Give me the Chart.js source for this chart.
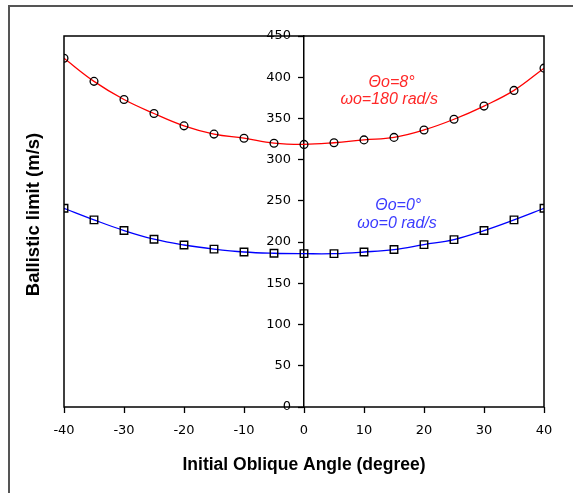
<!DOCTYPE html>
<html>
<head>
<meta charset="utf-8">
<script src="https://cdn.jsdelivr.net/npm/chart.js@4/dist/chart.umd.min.js"></script>
<style>
  body { margin: 0; background: #fff; }
  #wrap { position: relative; width: 573px; height: 493px; overflow: hidden; }
  #frame { position: absolute; left: 8px; top: 5px; width: 700px; height: 700px;
           border-top: 2px solid #555; border-left: 2px solid #555; }
  #myChart { position: absolute; left: 0; top: 0; }
</style>
</head>
<body>
<div id="wrap">
  <div id="frame"></div>
  <canvas id="myChart" width="573" height="493"></canvas>
</div>
<script>
/* datos */
const angles = [-40, -35, -30, -25, -20, -15, -10, -5, 0, 5, 10, 15, 20, 25, 30, 35, 40];
const limitSpin = [423, 395, 373, 356, 341, 331, 326, 320, 318.5, 320.5, 324, 327, 336, 349, 365, 384, 411];
const limitNoSpin = [241, 227, 214, 203.5, 196.5, 191.5, 188, 186.5, 186, 186, 188, 191, 197, 203, 214, 227, 241];
const yTicks = [0, 50, 100, 150, 200, 250, 300, 350, 400, 450];
const xTicks = [-40, -30, -20, -10, 0, 10, 20, 30, 40];

/* etiquetas de las curvas: [x, y] en unidades del grafico */
const notes = [
  { text: 'Θo=8°', at: [14.6, 393], color: 'rgb(255,40,40)' },
  { text: 'ωo=180 rad/s', at: [14.2, 373], color: 'rgb(255,40,40)' },
  { text: 'Θo=0°', at: [15.7, 244], color: 'rgb(60,60,255)' },
  { text: 'ωo=0 rad/s', at: [15.5, 222], color: 'rgb(60,60,255)' }
];

/* caja, titulo del eje y y etiquetas */
const extras = {
  id: 'extras',
  afterDraw(chart) {
    const c = chart.ctx, a = chart.chartArea;
    const sx = chart.scales.x, sy = chart.scales.y;
    c.save();
    c.strokeStyle = '#000';
    c.lineWidth = 1.5;
    c.strokeRect(a.left, a.top, a.right - a.left, a.bottom - a.top);

    c.fillStyle = '#000';
    c.font = 'bold 18.5px "Liberation Sans", Arial, sans-serif';
    c.textAlign = 'center';
    c.textBaseline = 'middle';
    c.translate(a.left - 30, (a.top + a.bottom) / 2 - 7);
    c.rotate(-Math.PI / 2);
    c.fillText('Ballistic limit (m/s)', 0, 0);
    c.restore();

    c.save();
    c.font = 'italic 16px "Liberation Sans", Arial, sans-serif';
    c.textAlign = 'center';
    c.textBaseline = 'middle';
    notes.forEach(n => {
      c.fillStyle = n.color;
      c.fillText(n.text, sx.getPixelForValue(n.at[0]), sy.getPixelForValue(n.at[1]));
    });
    c.restore();
  }
};

const tickFont = { family: '"DejaVu Sans", Verdana, sans-serif', size: 13 };

const config = {
  type: 'line',
  data: {
    datasets: [{
      label: 'spin',
      data: angles.map((a, i) => ({ x: a, y: limitSpin[i] })),
      borderColor: 'rgb(255,0,0)',
      borderWidth: 1.3,
      tension: 0.4,
      pointStyle: 'circle',
      pointRadius: 3.9,
      pointBorderColor: '#000',
      pointBorderWidth: 1.3,
      pointBackgroundColor: 'rgba(255,255,255,0)'
    }, {
      label: 'no spin',
      data: angles.map((a, i) => ({ x: a, y: limitNoSpin[i] })),
      borderColor: 'rgb(0,0,255)',
      borderWidth: 1.3,
      tension: 0.4,
      pointStyle: 'rect',
      pointRadius: 5.3,
      pointBorderColor: '#000',
      pointBorderWidth: 1.4,
      pointBackgroundColor: 'rgba(255,255,255,0)'
    }]
  },
  options: {
    responsive: false,
    animation: false,
    devicePixelRatio: 1,
    layout: { padding: { left: 64, right: 29, top: 36, bottom: 0 } },
    plugins: { legend: { display: false }, tooltip: { enabled: false } },
    scales: {
      x: {
        type: 'linear',
        position: 'bottom',
        min: -40, max: 40,
        afterFit: s => { s.height = 86; },
        afterBuildTicks: s => { s.ticks = xTicks.map(v => ({ value: v })); },
        grid: { drawOnChartArea: false, tickLength: 6, color: '#000', tickWidth: 1.3 },
        border: { display: false },
        ticks: { color: '#000', font: tickFont, padding: 10, maxRotation: 0 },
        title: {
          display: true,
          text: 'Initial Oblique Angle (degree)',
          color: '#000',
          font: { family: '"Liberation Sans", Arial, sans-serif', size: 17.5, weight: 'bold' },
          padding: { top: 0, bottom: 17 }
        }
      },
      /* eje central: linea y marcas */
      y: {
        type: 'linear',
        position: { x: 0 },
        min: 0, max: 450,
        afterBuildTicks: s => { s.ticks = yTicks.map(v => ({ value: v })); },
        grid: { drawOnChartArea: false, tickLength: 5, color: '#000', tickWidth: 1.3 },
        border: { display: true, color: '#000', width: 1.5 },
        ticks: { display: false }
      },
      /* etiquetas del eje central, un poco a la izquierda */
      yl: {
        type: 'linear',
        axis: 'y',
        position: { x: -2.17 },
        min: 0, max: 450,
        afterBuildTicks: s => { s.ticks = yTicks.map(v => ({ value: v })); },
        grid: { display: false },
        border: { display: false },
        ticks: { color: '#000', font: tickFont }
      }
    }
  },
  plugins: [extras]
};

const chart = new Chart(document.getElementById('myChart'), config);
</script>
</body>
</html>
